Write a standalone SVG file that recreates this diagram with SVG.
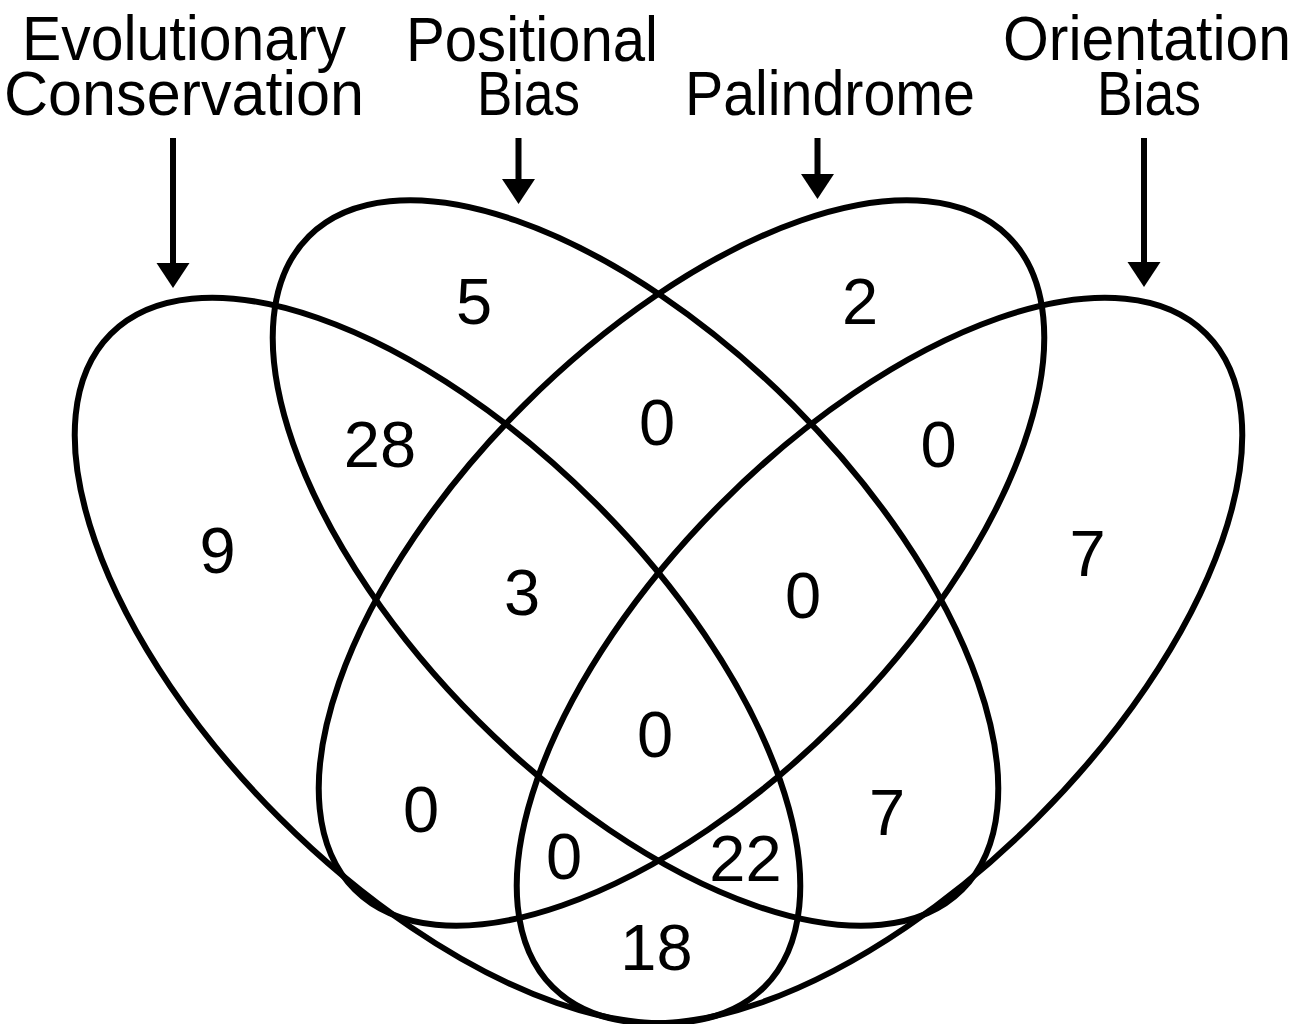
<svg xmlns="http://www.w3.org/2000/svg" width="1295" height="1024" viewBox="0 0 1295 1024">
  <style>
    .set { fill: none; stroke: #000; stroke-width: 6; }
    .ptr { stroke: #000; stroke-width: 6; marker-end: url(#head); }
    .title { font-family: "Liberation Sans", Arial, sans-serif; font-size: 63px; fill: #000; text-anchor: middle; }
    .count { font-family: "Liberation Sans", Arial, sans-serif; font-size: 65px; fill: #000; text-anchor: middle; }
  </style>
  <defs>
    <marker id="head" markerUnits="userSpaceOnUse" markerWidth="26" markerHeight="34" refX="0" refY="16.5" orient="auto">
      <path d="M0,0 L25,16.5 L0,33 Z" fill="#000"/>
    </marker>
  </defs>
  <rect width="1295" height="1024" fill="#fff"/>

  <!-- four-set Venn: each set is one rotated ellipse -->
  <g id="set-evolutionary-conservation">
    <ellipse class="set" cx="437.5" cy="660.5" rx="462" ry="223" transform="rotate(45 437.5 660.5)"/>
    <text class="title" x="184" y="60" textLength="324" lengthAdjust="spacingAndGlyphs">Evolutionary</text>
    <text class="title" x="184" y="115" textLength="360" lengthAdjust="spacingAndGlyphs">Conservation</text>
  </g>
  <g id="set-positional-bias">
    <ellipse class="set" cx="635.5" cy="563" rx="462" ry="223" transform="rotate(45 635.5 563)"/>
    <text class="title" x="532" y="61" textLength="252" lengthAdjust="spacingAndGlyphs">Positional</text>
    <text class="title" x="528.5" y="115" textLength="103" lengthAdjust="spacingAndGlyphs">Bias</text>
  </g>
  <g id="set-palindrome">
    <ellipse class="set" cx="681.5" cy="563" rx="462" ry="223" transform="rotate(-45 681.5 563)"/>
    <text class="title" x="830" y="115" textLength="290" lengthAdjust="spacingAndGlyphs">Palindrome</text>
  </g>
  <g id="set-orientation-bias">
    <ellipse class="set" cx="879.5" cy="660.5" rx="462" ry="223" transform="rotate(-45 879.5 660.5)"/>
    <text class="title" x="1147" y="60" textLength="288" lengthAdjust="spacingAndGlyphs">Orientation</text>
    <text class="title" x="1149" y="115" textLength="104" lengthAdjust="spacingAndGlyphs">Bias</text>
  </g>

  <!-- pointers from the set names to their ellipses -->
  <g id="connectors">
    <line class="ptr" x1="173" y1="138" x2="173" y2="263"/>
    <line class="ptr" x1="518.5" y1="138" x2="518.5" y2="179"/>
    <line class="ptr" x1="817.5" y1="138" x2="817.5" y2="174"/>
    <line class="ptr" x1="1144" y1="138" x2="1144" y2="262"/>
  </g>

  <!-- region counts -->
  <g id="counts">
    <text class="count" x="217.5" y="573">9</text>
    <text class="count" x="474" y="324">5</text>
    <text class="count" x="860" y="324">2</text>
    <text class="count" x="1087.5" y="576">7</text>
    <text class="count" x="380" y="467">28</text>
    <text class="count" x="657" y="445">0</text>
    <text class="count" x="938.5" y="467">0</text>
    <text class="count" x="522" y="615">3</text>
    <text class="count" x="803" y="618">0</text>
    <text class="count" x="655" y="757">0</text>
    <text class="count" x="421" y="832">0</text>
    <text class="count" x="887" y="835">7</text>
    <text class="count" x="564" y="879">0</text>
    <text class="count" x="745.5" y="881">22</text>
    <text class="count" x="656.5" y="970">18</text>
  </g>
</svg>
